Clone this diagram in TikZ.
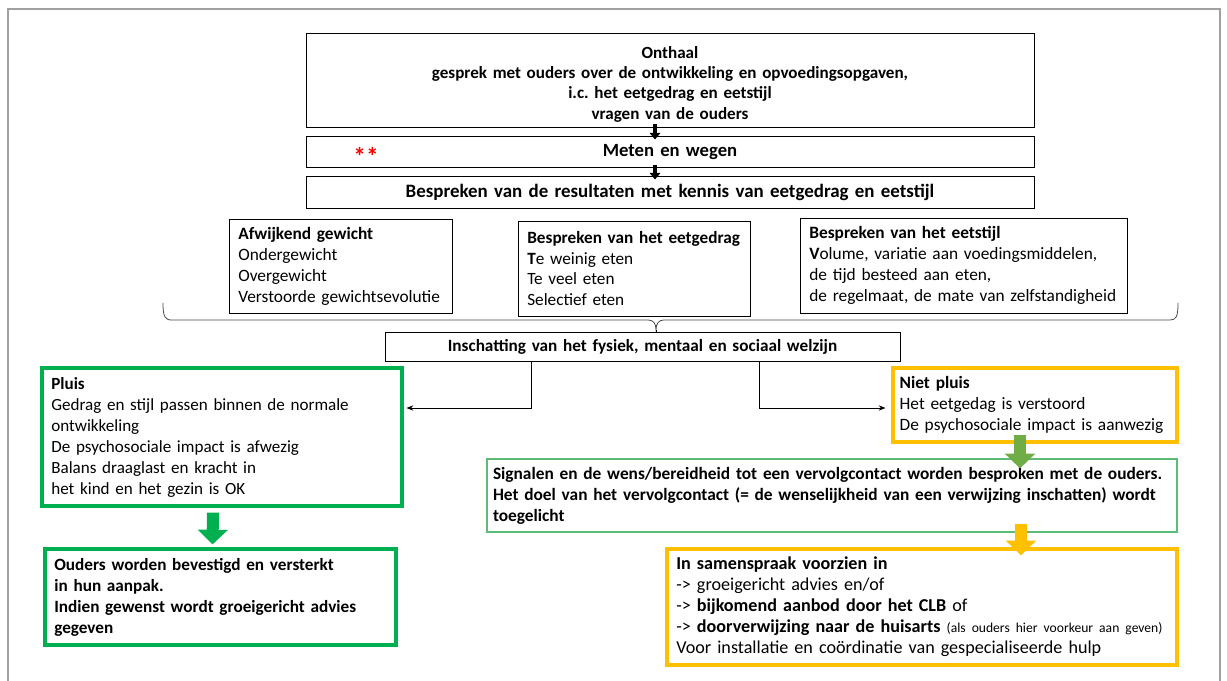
\documentclass[tikz,border=0pt]{standalone}
\usepackage{fontspec}
\setmainfont{Carlito}
\usetikzlibrary{arrows.meta,calc}
\frenchspacing
\definecolor{pgreen}{HTML}{00B050}
\definecolor{porange}{HTML}{FFC000}
\definecolor{agreen}{HTML}{70AD47}
\definecolor{lgreen}{HTML}{5DBB78}
\definecolor{framegray}{HTML}{A0A0A0}
\newcommand\pxbox[8][7]{%
  \pgfmathsetmacro\bxw{(#5-#3)*0.75}%
  \pgfmathsetmacro\bxh{(#6-#4)*0.75}%
  \pgfmathsetmacro\bxt{(#5-#3)*0.75-2*#1}%
  \node[#7, inner xsep=#1pt, minimum width=\bxw pt, minimum height=\bxh pt, text width=\bxt pt] (#2) at ({(#3+#5)/2},{(#4+#6)/2}) {#8};%
}
\begin{document}
\begin{tikzpicture}[x=0.75pt,y=-0.75pt,
  base/.style={draw, inner ysep=1pt, line width=0.75pt},
  thinbox/.style={base},
  gbox/.style={base, draw=pgreen, line width=2.4pt},
  obox/.style={base, draw=porange, line width=2.4pt},
  sbox/.style={base, draw=lgreen, line width=0.9pt},
  ctext/.style={align=center},
  ltext/.style={align=left},
  fa/.style={font=\fontsize{12.8}{15.25}\selectfont\bfseries},
  fb/.style={font=\fontsize{13}{15.75}\selectfont},
  smallarrow/.style={line width=2.4pt, -{Triangle[length=5pt,width=8pt]}},
  conn/.style={line width=0.6pt, -{Stealth[length=5pt,width=4pt]}},
  blockarrow/.style={line width=9pt, -{Triangle[length=11pt,width=22pt]}},
]
\useasboundingbox (0,0) rectangle (1227,681);
\fill[white] (0,0) rectangle (1227,681);
% outer frame
\draw[framegray, line width=1.5pt] (8,700) -- (8,9) -- (1220,9) -- (1220,700);

% top boxes
\pxbox{b1}{306}{34}{1034}{128}{thinbox,ctext,fa}{\rule{0pt}{13.5pt}Onthaal\\gesprek met ouders over de ontwikkeling en opvoedingsopgaven,\\i.c. het eetgedrag en eetstijl\\vragen van de ouders}
\pxbox{b2}{306}{137}{1034}{168}{thinbox,ctext,font=\fontsize{14}{15}\selectfont\bfseries}{Meten en wegen}
\pxbox{b3}{306}{177}{1034}{208}{thinbox,ctext,font=\fontsize{14.2}{15}\selectfont\bfseries}{Bespreken van de resultaten met kennis van eetgedrag en eetstijl}
\node[text=red, font=\fontsize{19}{15}\selectfont\bfseries, inner sep=0pt] (stars) at (366,156) {**};

\draw[smallarrow] ($(b1.south)+(-15,-4)$) -- ($(b2.north)+(-15,3)$);
\draw[smallarrow] ($(b2.south)+(-15,-3)$) -- ($(b3.north)+(-15,3)$);

% three info boxes
\pxbox{ba}{229}{219}{452}{313}{thinbox,ltext,fb}{\textbf{Afwijkend gewicht}\\Ondergewicht\\Overgewicht\\Verstoorde gewichtsevolutie}
\pxbox{bb}{518}{221}{750}{316}{thinbox,ltext,font=\fontsize{12.9}{15.5}\selectfont}{\textbf{Bespreken van het eetgedrag}\\\textbf{T}e weinig eten\\Te veel eten\\Selectief eten}
\pxbox{bc}{800}{218}{1127}{313}{thinbox,ltext,fb}{\textbf{Bespreken van het eetstijl}\\\textbf{V}olume, variatie aan voedingsmiddelen,\\de tijd besteed aan eten,\\de regelmaat, de mate van zelfstandigheid}

% Inschatting
\pxbox{ins}{385}{332}{900}{361}{thinbox,ctext,font=\fontsize{12.9}{15}\selectfont\bfseries}{Inschatting van het fysiek, mentaal en sociaal welzijn}

% brace
\coordinate (bt) at (656,330);
\draw[line width=0.6pt, black!70] (163,303) .. controls (163,317) and (165,320) .. (172,320) -- (648,320) .. controls (653,320) and (656,323) .. (bt) .. controls (656,323) and (659,320) .. (664,320) -- (1170,320) .. controls (1176,320) and (1178,317) .. (1178,303);
\draw[line width=0.6pt] (bt) -- (bt |- ins.north);

% Pluis / Niet pluis
\pxbox{pluis}{42}{368}{402}{506}{gbox,ltext,font=\fontsize{12.8}{15.75}\selectfont}{\textbf{Pluis}\\Gedrag en stijl passen binnen de normale\\ontwikkeling\\De psychosociale impact is afwezig\\Balans draaglast en kracht in\\het kind en het gezin is OK}
\pxbox[5]{niet}{893}{368}{1177}{442}{obox,ltext,font=\fontsize{13}{15.75}\selectfont}{\textbf{Niet pluis}\\Het eetgedag is verstoord\\De psychosociale impact is aanwezig}

\draw[conn] ($(ins.south)+(-111,0)$) |- ($(pluis.east)+(3,-29)$);
\draw[conn] ($(ins.south)+(117,0)$) |- ($(niet.west)+(-6,3)$);

% Ouders
\pxbox{ouders}{45}{549}{396}{645}{gbox,ltext,font=\fontsize{12.9}{15.75}\selectfont\bfseries}{Ouders worden bevestigd en versterkt\\in hun aanpak.\\Indien gewenst wordt groeigericht advies\\gegeven}
\draw[blockarrow, pgreen] ($(pluis.south)+(-9,5)$) -- ($(ouders.north)+(-8,-3)$);

% Signalen
\pxbox[4.5]{sig}{487}{459}{1177}{532}{sbox,ltext,font=\fontsize{13}{15.75}\selectfont\bfseries}{Signalen en de wens/bereidheid tot een vervolgcontact worden besproken met de ouders.\\Het doel van het vervolgcontact (= de wenselijkheid van een verwijzing inschatten) wordt\\toegelicht}
\draw[blockarrow, agreen] ($(niet.south)+(-15,-9)$) -- ($(sig.north)+(188,10)$);

% Samenspraak
\pxbox{samen}{667}{549}{1177}{665}{obox,ltext,font=\fontsize{13.6}{15.75}\selectfont}{\textbf{In samenspraak voorzien in}\\-> groeigericht advies en/of\\-> \textbf{bijkomend aanbod door het CLB} of\\-> \textbf{doorverwijzing naar de huisarts} {\fontsize{10.2}{15.75}\selectfont(als ouders hier voorkeur aan geven)}\\Voor installatie en coördinatie van gespecialiseerde hulp}
\draw[blockarrow, porange] ($(sig.south)+(189,-9)$) -- ($(samen.north)+(99,8)$);
\end{tikzpicture}
\end{document}
